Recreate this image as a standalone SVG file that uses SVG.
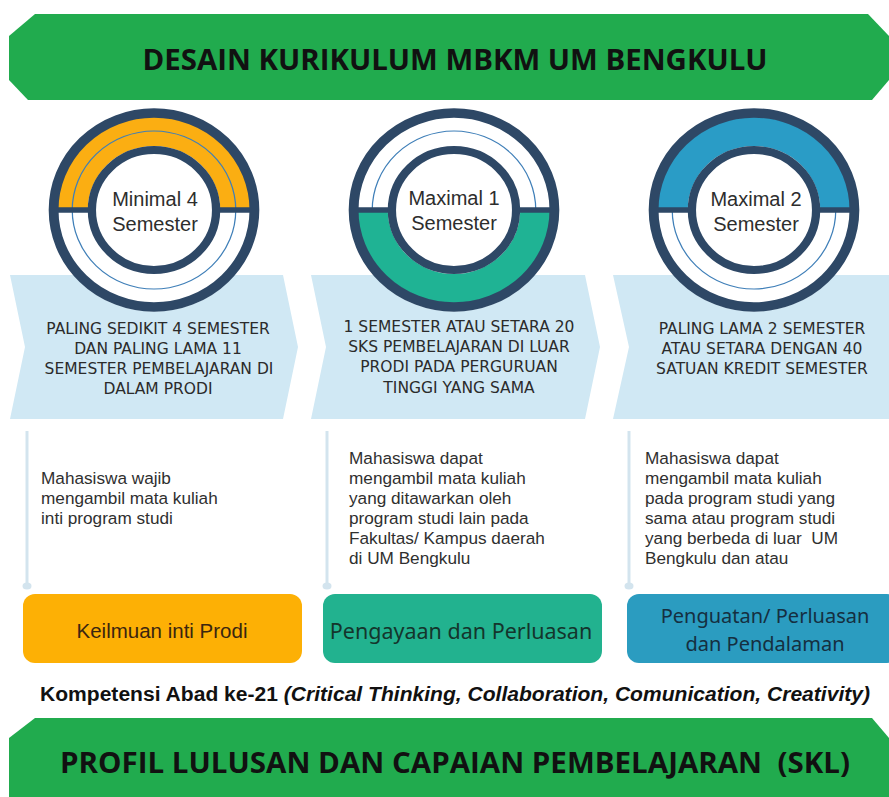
<svg xmlns="http://www.w3.org/2000/svg" width="889" height="797" viewBox="0 0 889 797">
<defs>
<style>
.banner{fill:#21ab4e}
.btitle{font-family:"Open Sans","Noto Sans",sans-serif;font-weight:700;font-size:28px;fill:#111;text-anchor:middle}
.chev{fill:#d0e8f4}
.ring{fill:none;stroke:#2e4866}
.ctext{font-family:"Liberation Sans",Arial,sans-serif;font-size:20px;fill:#2d2d2d;text-anchor:middle}
.chtext{font-family:"DejaVu Sans",sans-serif;font-size:15.5px;fill:#2b2b2b;text-anchor:middle}
.desc{font-family:"Liberation Sans",Arial,sans-serif;font-size:17.2px;fill:#2f2f2f}
.conn{stroke:#d3e4ee;stroke-width:3;fill:none}
.dot{fill:#d3e4ee}
.boxt{font-family:"Noto Sans","Open Sans",sans-serif;font-size:21.5px;text-anchor:middle}
.komp{font-family:"Liberation Sans",Arial,sans-serif;font-size:19.5px;font-weight:700;fill:#111}
</style>
</defs>
<rect width="889" height="797" fill="#fff"/>

<g id="top-banner">
<polygon class="banner" points="35,14 868,14 889,36 889,80 872,100 28,100 9,80 9,36"/>
<text class="btitle" x="455" y="70" textLength="625" lengthAdjust="spacingAndGlyphs">DESAIN KURIKULUM MBKM UM BENGKULU</text>
</g>

<g id="chevron-1">
<polygon class="chev" points="10,275 283,275 298,347 283,419 10,419 25,347"/>
</g>
<g id="chevron-2">
<polygon class="chev" points="311,275 585,275 600,347 585,419 311,419 326,347"/>
</g>
<g id="chevron-3">
<polygon class="chev" points="613,275 889,275 889,419 613,419 629,347"/>
</g>

<g id="circle-1" transform="translate(154,210) scale(1.035,1)">
<circle r="101.5" fill="#fff"/>
<path d="M-93,0 A93,93 0 0 1 93,0 L64,0 A64,64 0 0 0 -64,0 Z" fill="#fbae12"/>
<circle r="79" fill="none" stroke="#3f7fb8" stroke-width="1.2"/>
<line x1="-96" y1="0" x2="-60" y2="0" stroke="#2e4866" stroke-width="5.5"/>
<line x1="60" y1="0" x2="96" y2="0" stroke="#2e4866" stroke-width="5.5"/>
<circle class="ring" r="97" stroke-width="9.5"/>
<circle r="60" fill="#fff" stroke="#2e4866" stroke-width="8"/>
</g>
<g id="circle-2" transform="translate(454,210) scale(1.035,1)">
<circle r="101.5" fill="#fff"/>
<path d="M-93,0 A93,93 0 0 0 93,0 L64,0 A64,64 0 0 1 -64,0 Z" fill="#1fb394"/>
<path d="M-79,0 A79,79 0 0 1 79,0" fill="none" stroke="#3f7fb8" stroke-width="1.2"/>
<line x1="-96" y1="0" x2="-60" y2="0" stroke="#2e4866" stroke-width="5.5"/>
<line x1="60" y1="0" x2="96" y2="0" stroke="#2e4866" stroke-width="5.5"/>
<circle class="ring" r="97" stroke-width="9.5"/>
<circle r="60" fill="#fff" stroke="#2e4866" stroke-width="8"/>
</g>
<g id="circle-3" transform="translate(754,210) scale(1.035,1)">
<circle r="101.5" fill="#fff"/>
<path d="M-93,0 A93,93 0 0 1 93,0 L64,0 A64,64 0 0 0 -64,0 Z" fill="#2a9cc6"/>
<path d="M-79,0 A79,79 0 0 0 79,0" fill="none" stroke="#3f7fb8" stroke-width="1.2"/>
<line x1="-96" y1="0" x2="-60" y2="0" stroke="#2e4866" stroke-width="5.5"/>
<line x1="60" y1="0" x2="96" y2="0" stroke="#2e4866" stroke-width="5.5"/>
<circle class="ring" r="97" stroke-width="9.5"/>
<circle r="60" fill="#fff" stroke="#2e4866" stroke-width="8"/>
</g>

<g id="circle-labels">
<text class="ctext" x="155" y="206">Minimal 4</text>
<text class="ctext" x="155" y="231">Semester</text>
<text class="ctext" x="454" y="205">Maximal 1</text>
<text class="ctext" x="454" y="230">Semester</text>
<text class="ctext" x="756" y="206">Maximal 2</text>
<text class="ctext" x="756" y="231">Semester</text>
</g>

<g id="chevron-texts">
<text class="chtext" x="158" y="334">PALING SEDIKIT 4 SEMESTER</text>
<text class="chtext" x="158" y="354">DAN PALING LAMA 11</text>
<text class="chtext" x="159" y="374">SEMESTER PEMBELAJARAN DI</text>
<text class="chtext" x="158" y="394">DALAM PRODI</text>
<text class="chtext" x="459" y="332">1 SEMESTER ATAU SETARA 20</text>
<text class="chtext" x="459" y="352">SKS PEMBELAJARAN DI LUAR</text>
<text class="chtext" x="459" y="372">PRODI PADA PERGURUAN</text>
<text class="chtext" x="459" y="393">TINGGI YANG SAMA</text>
<text class="chtext" x="762" y="334">PALING LAMA 2 SEMESTER</text>
<text class="chtext" x="762" y="354">ATAU SETARA DENGAN 40</text>
<text class="chtext" x="762" y="374">SATUAN KREDIT SEMESTER</text>
</g>

<g id="connectors">
<line class="conn" x1="27" y1="431" x2="27" y2="584"/>
<ellipse class="dot" cx="27" cy="586" rx="4.5" ry="3.5"/>
<line class="conn" x1="327" y1="431" x2="327" y2="584"/>
<ellipse class="dot" cx="327" cy="586" rx="4.5" ry="3.5"/>
<line class="conn" x1="629" y1="431" x2="629" y2="584"/>
<ellipse class="dot" cx="629" cy="586" rx="4.5" ry="3.5"/>
</g>

<g id="desc-1">
<text class="desc" x="41" y="484">Mahasiswa wajib</text>
<text class="desc" x="41" y="504">mengambil mata kuliah</text>
<text class="desc" x="41" y="524">inti program studi</text>
</g>
<g id="desc-2">
<text class="desc" x="349" y="464">Mahasiswa dapat</text>
<text class="desc" x="349" y="484">mengambil mata kuliah</text>
<text class="desc" x="349" y="504">yang ditawarkan oleh</text>
<text class="desc" x="349" y="524">program studi lain pada</text>
<text class="desc" x="349" y="544">Fakultas/ Kampus daerah</text>
<text class="desc" x="349" y="564">di UM Bengkulu</text>
</g>
<g id="desc-3">
<text class="desc" x="645" y="464">Mahasiswa dapat</text>
<text class="desc" x="645" y="484">mengambil mata kuliah</text>
<text class="desc" x="645" y="504">pada program studi yang</text>
<text class="desc" x="645" y="524">sama atau program studi</text>
<text class="desc" x="645" y="544" xml:space="preserve">yang berbeda di luar  UM</text>
<text class="desc" x="645" y="564">Bengkulu dan atau</text>
</g>

<g id="box-1">
<rect x="23" y="594" width="279" height="69" rx="12" fill="#fdb005"/>
<text x="162" y="638" font-family="Liberation Sans, Arial, sans-serif" font-size="20.5" fill="#3a2510" text-anchor="middle">Keilmuan inti Prodi</text>
</g>
<g id="box-2">
<rect x="323" y="594" width="279" height="69" rx="12" fill="#22b28f"/>
<text class="boxt" x="461" y="639" fill="#14352c">Pengayaan dan Perluasan</text>
</g>
<g id="box-3">
<rect x="627" y="594" width="272" height="69" rx="12" fill="#2b9cc0"/>
<text class="boxt" x="765" y="623" fill="#152f40" style="font-size:20px">Penguatan/ Perluasan</text>
<text class="boxt" x="765" y="651" fill="#152f40" style="font-size:20px">dan Pendalaman</text>
</g>

<g id="kompetensi">
<text class="komp" x="40" y="701" textLength="830" lengthAdjust="spacingAndGlyphs">Kompetensi Abad ke-21 <tspan font-style="italic">(Critical Thinking, Collaboration, Comunication, Creativity)</tspan></text>
</g>

<g id="bottom-banner">
<polygon class="banner" points="35,718 872,718 889,738 889,797 9,797 9,738"/>
<text class="btitle" x="455" y="773" textLength="790" lengthAdjust="spacingAndGlyphs" xml:space="preserve">PROFIL LULUSAN DAN CAPAIAN PEMBELAJARAN  (SKL)</text>
</g>
</svg>
